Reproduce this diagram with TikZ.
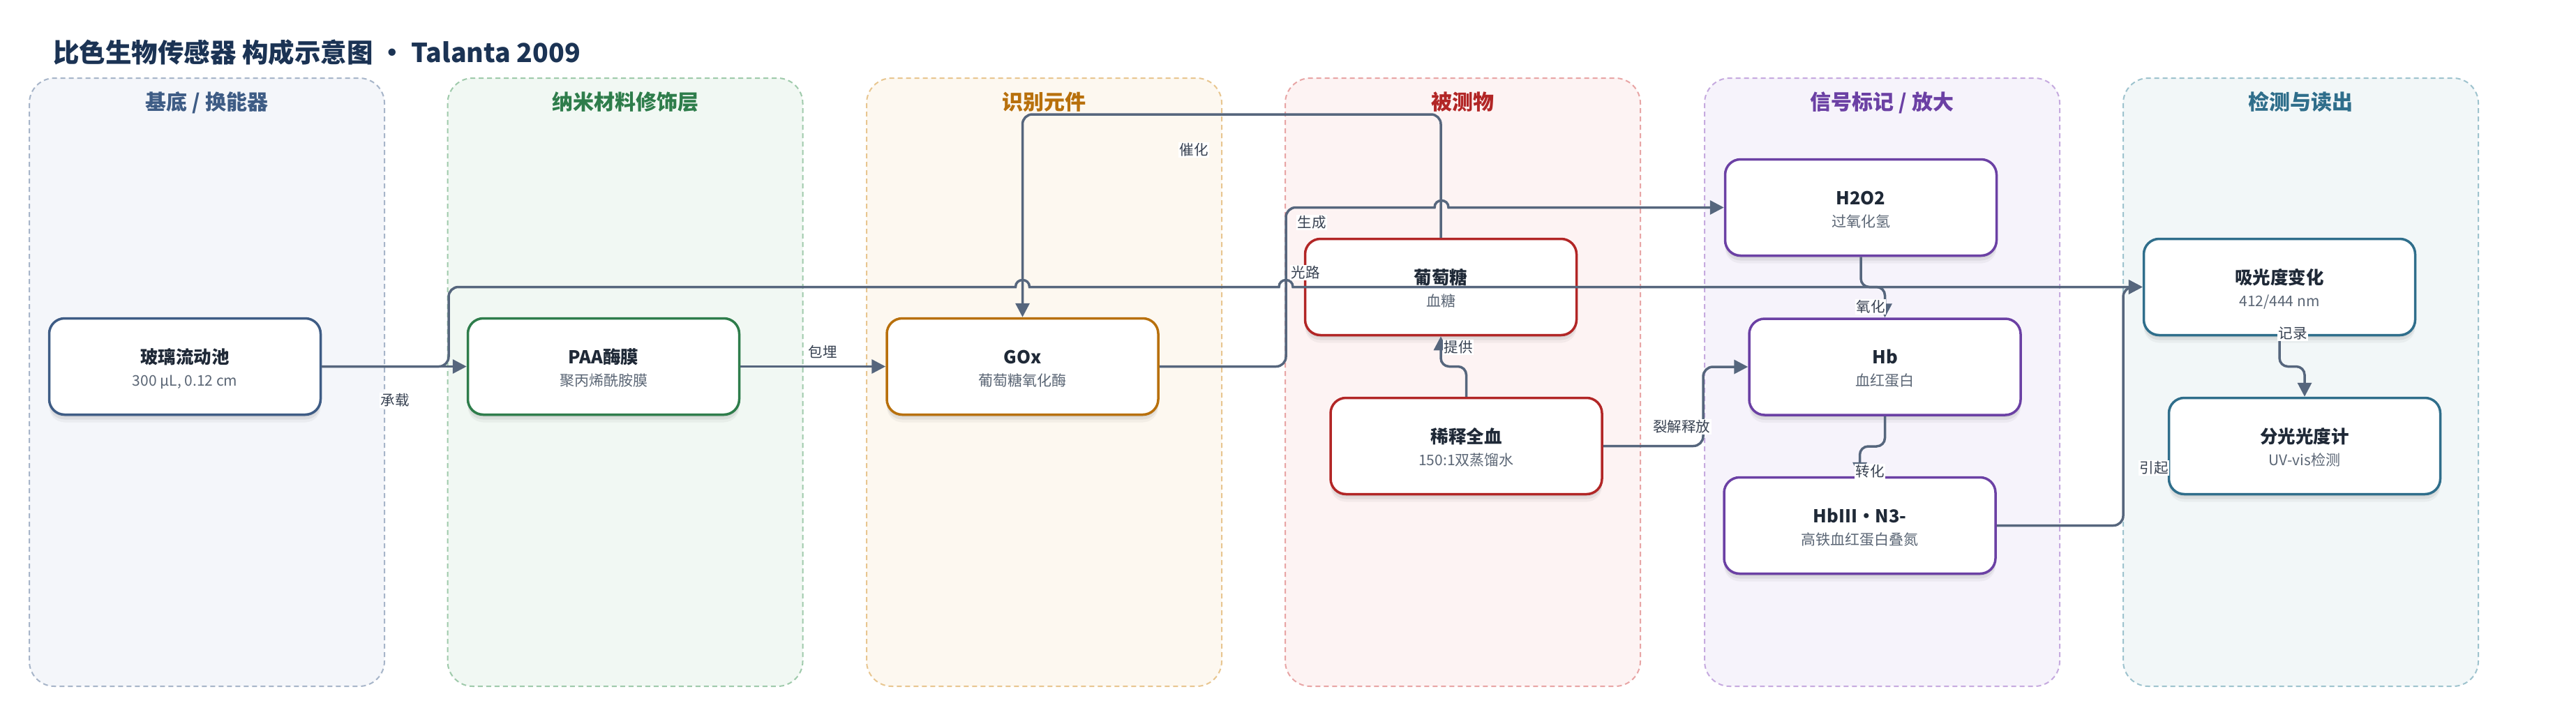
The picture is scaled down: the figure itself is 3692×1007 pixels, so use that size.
\documentclass[tikz,border=0pt]{standalone}
\usepackage{fontspec}
\setmainfont{Noto Sans CJK SC}
\usetikzlibrary{arrows.meta,shadows,calc}

\definecolor{edgec}{HTML}{56667D}
\definecolor{txtc}{HTML}{1F2937}
\definecolor{subc}{HTML}{5B6675}
\definecolor{lblc}{HTML}{374151}
\definecolor{titlec}{HTML}{1B3354}
\definecolor{lA}{HTML}{3E5C85}\definecolor{lAf}{HTML}{F4F6FA}\definecolor{lAd}{HTML}{A7B5C9}
\definecolor{lB}{HTML}{2E7D4B}\definecolor{lBf}{HTML}{F1F8F3}\definecolor{lBd}{HTML}{9FCAAB}
\definecolor{lC}{HTML}{B8700C}\definecolor{lCf}{HTML}{FDF8F0}\definecolor{lCd}{HTML}{E8C690}
\definecolor{lD}{HTML}{B22626}\definecolor{lDf}{HTML}{FDF3F3}\definecolor{lDd}{HTML}{E8A5A5}
\definecolor{lE}{HTML}{6B40A4}\definecolor{lEf}{HTML}{F6F3FB}\definecolor{lEd}{HTML}{C6AADF}
\definecolor{lF}{HTML}{2F6E8B}\definecolor{lFf}{HTML}{F2F7F8}\definecolor{lFd}{HTML}{9EC3CE}

\newcommand\mkbox[6]{%
  \node[nodebox=#4] (#1) at (#2,#3) {};
  \node[ttl] at ($(#1.center)+(0,-4.5)$) {#5};
  \node[subt] at ($(#1.center)+(0,27.5)$) {#6};
}
\newcommand\mklane[6]{%
  \path[lanebox={#3}{#4}] (#1,112) rectangle ++(509,872);
  \node[lanettl, text=#5] (#2) at (#1+254.5,157) {#6};
}

\begin{document}
\begin{tikzpicture}[x=1pt,y=-1pt,
  nodebox/.style={rectangle, rounded corners=22pt, draw=#1, line width=3.5pt, fill=white,
    minimum width=389pt, minimum height=138pt, inner sep=0pt,
    drop shadow={shadow xshift=0pt, shadow yshift=-3pt, opacity=0.07, fill=black},
    drop shadow={shadow xshift=0pt, shadow yshift=-7pt, opacity=0.06, fill=black},
    drop shadow={shadow xshift=0pt, shadow yshift=-11pt, opacity=0.04, fill=black}},
  ttl/.style={anchor=base, inner sep=0pt, text=txtc, font=\fontsize{25.5pt}{30pt}\selectfont\bfseries},
  subt/.style={anchor=base, inner sep=0pt, text=subc, font=\fontsize{21pt}{25pt}\selectfont},
  lanebox/.style 2 args={fill=#1, draw=#2, line width=2pt, dash pattern=on 7pt off 5pt, rounded corners=36pt},
  lanettl/.style={anchor=base, inner sep=0pt, font=\fontsize{30pt}{36pt}\selectfont\bfseries},
  edge/.style={draw=edgec, line width=3.5pt, -{Triangle[length=20pt,width=20pt]}},
  lbl/.style={fill=white, inner sep=1.5pt, text=lblc, font=\fontsize{20.5pt}{24pt}\selectfont}
]
\useasboundingbox (0,0) rectangle (3692,1007);
\fill[white] (0,0) rectangle (3692,1007);

% title
\node[anchor=base west, inner sep=0pt, text=titlec, font=\fontsize{37.5pt}{44pt}\selectfont\bfseries] (title) at (76,89) {比色生物传感器 构成示意图 · Talanta 2009};

% lanes
\mklane{42}{laneA}{lAf}{lAd}{lA}{基底 / 换能器}
\mklane{641.5}{laneB}{lBf}{lBd}{lB}{纳米材料修饰层}
\mklane{1242}{laneC}{lCf}{lCd}{lC}{识别元件}
\mklane{1842}{laneD}{lDf}{lDd}{lD}{被测物}
\mklane{2443}{laneE}{lEf}{lEd}{lE}{信号标记 / 放大}
\mklane{3043}{laneF}{lFf}{lFd}{lF}{检测与读出}

% nodes
\mkbox{glass}{265}{525.5}{lA}{玻璃流动池}{300 µL, 0.12 cm}
\mkbox{paa}{865}{525.5}{lB}{PAA酶膜}{聚丙烯酰胺膜}
\mkbox{gox}{1465.5}{525.5}{lC}{GOx}{葡萄糖氧化酶}
\mkbox{glu}{2065}{411.5}{lD}{葡萄糖}{血糖}
\mkbox{blood}{2101.5}{639.5}{lD}{稀释全血}{150:1双蒸馏水}
\mkbox{h2o2}{2667}{297.5}{lE}{H2O2}{过氧化氢}
\mkbox{hb}{2701.5}{526}{lE}{Hb}{血红蛋白}
\mkbox{hbn}{2665.5}{753.5}{lE}{HbIII·N3-}{高铁血红蛋白叠氮}
\mkbox{abs}{3267}{411.5}{lF}{吸光度变化}{412/444 nm}
\mkbox{spec}{3303}{639.5}{lF}{分光光度计}{UV-vis检测}

% connectors
\draw[edge] (glass.east) -- (paa.west);
\draw[edge] (paa.east) -- (gox.west);
\draw[edge, rounded corners=14pt] (glu.north) -- (2065,164) -- (1465.5,164) -- (gox.north);
\draw[edge, rounded corners=14pt] (gox.east) -- (1843,525.5) -- (1843,297.5) -- (1950,297.5)
  [sharp corners] -- (2056,297.5) .. controls (2056,284.2) and (2076,284.2) .. (2076,297.5) -- (h2o2.west);
\draw[edge, rounded corners=14pt] (glass.east) -- (643,525.5) -- (643,411.5) -- (1000,411.5)
  [sharp corners] -- (1455.5,411.5) .. controls (1455.5,398.2) and (1475.5,398.2) .. (1475.5,411.5)
  -- (1833,411.5) .. controls (1833,398.2) and (1853,398.2) .. (1853,411.5) -- (abs.west);
\draw[edge, rounded corners=12pt] (blood.north) -- (2101.5,525.5) -- (2065,525.5) -- (glu.south);
\draw[edge, rounded corners=14pt] (blood.east) -- (2441,639.5) -- (2441,526) -- (hb.west);
\draw[edge, rounded corners=12pt] (h2o2.south) -- (2667,411.5) -- (2701.5,411.5) -- (hb.north);
\draw[edge, rounded corners=12pt] (hb.south) -- (2701.5,640) -- (2665.5,640) -- (hbn.north);
\draw[edge, rounded corners=14pt] (hbn.east) -- (3043,753.5) -- (3043,411.5) -- (abs.west);
\draw[edge, rounded corners=12pt] (abs.south) -- (3267,525.5) -- (3303,525.5) -- (spec.north);

% connector labels
\node[lbl] (l1) at (566,574) {承载};
\node[lbl] (l2) at (1179,504) {包埋};
\node[lbl] (l3) at (1711,215) {催化};
\node[lbl] (l4) at (1880,319) {生成};
\node[lbl] (l5) at (1871,391) {光路};
\node[lbl] (l6) at (2090,498) {提供};
\node[lbl] (l7) at (2410,612) {裂解释放};
\node[lbl] (l8) at (2681,440) {氧化};
\node[lbl] (l9) at (2680,676) {转化};
\node[lbl] (l10) at (3087,671) {引起};
\node[lbl] (l11) at (3286,478) {记录};
\end{tikzpicture}
\end{document}
